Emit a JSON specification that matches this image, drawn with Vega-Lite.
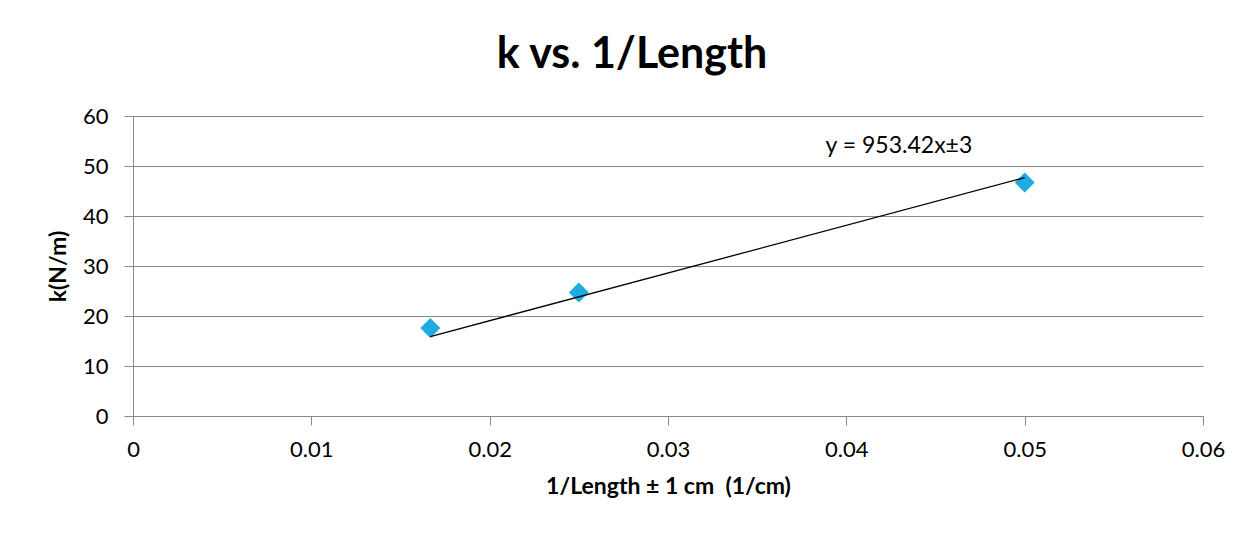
{
  "$schema": "https://vega.github.io/schema/vega-lite/v6.json",
  "autosize": "none",
  "width": 1070,
  "height": 300,
  "padding": {"left": 133, "top": 116, "right": 50, "bottom": 121},
  "background": "white",
  "config": {
    "font": "Lato",
    "view": {"stroke": null},
    "axis": {
      "domainColor": "#898989",
      "tickColor": "#898989",
      "gridColor": "#898989",
      "labelColor": "#000000",
      "titleColor": "#000000",
      "labelFont": "Lato",
      "titleFont": "Lato",
      "labelFontSize": 22,
      "titleFontSize": 23,
      "titleFontWeight": "bold",
      "tickSize": 9
    }
  },
  "title": {
    "text": "k vs. 1/Length",
    "font": "Lato",
    "fontSize": 43,
    "fontWeight": "bold",
    "color": "#000000",
    "anchor": "middle",
    "dx": -36,
    "offset": 28
  },
  "datasets": {
    "points": [
      {"inv_length": 0.01667, "k": 17.6},
      {"inv_length": 0.025, "k": 24.7},
      {"inv_length": 0.05, "k": 46.7}
    ],
    "trend": [
      {"inv_length": 0.01667, "k": 15.89},
      {"inv_length": 0.05, "k": 47.67}
    ],
    "label": [
      {"inv_length": 0.04295, "k": 54.1, "text": "y = 953.42x±3"}
    ]
  },
  "layer": [
    {
      "data": {"name": "points"},
      "mark": {"type": "point", "shape": "diamond", "filled": true, "size": 400, "color": "#1DABE2", "opacity": 1},
      "encoding": {
        "x": {
          "field": "inv_length",
          "type": "quantitative",
          "scale": {"domain": [0, 0.06], "nice": false, "zero": true},
          "axis": {
            "values": [0, 0.01, 0.02, 0.03, 0.04, 0.05, 0.06],
            "format": ".2~f",
            "grid": false,
            "labelFlush": false,
            "title": "1/Length ± 1 cm \u00a0(1/cm)",
            "labelPadding": 14,
            "titlePadding": 15
          }
        },
        "y": {
          "field": "k",
          "type": "quantitative",
          "scale": {"domain": [0, 60], "nice": false},
          "axis": {
            "values": [0, 10, 20, 30, 40, 50, 60],
            "grid": true,
            "labelFlush": false,
            "title": "k(N/m)",
            "labelPadding": 16,
            "titlePadding": 12
          }
        }
      }
    },
    {
      "data": {"name": "trend"},
      "mark": {"type": "line", "color": "#000000", "strokeWidth": 1.3},
      "encoding": {
        "x": {"field": "inv_length", "type": "quantitative"},
        "y": {"field": "k", "type": "quantitative"}
      }
    },
    {
      "data": {"name": "label"},
      "mark": {"type": "text", "font": "Lato", "fontSize": 23, "color": "#000000", "align": "center", "baseline": "middle"},
      "encoding": {
        "x": {"field": "inv_length", "type": "quantitative"},
        "y": {"field": "k", "type": "quantitative"},
        "text": {"field": "text"}
      }
    }
  ]
}
